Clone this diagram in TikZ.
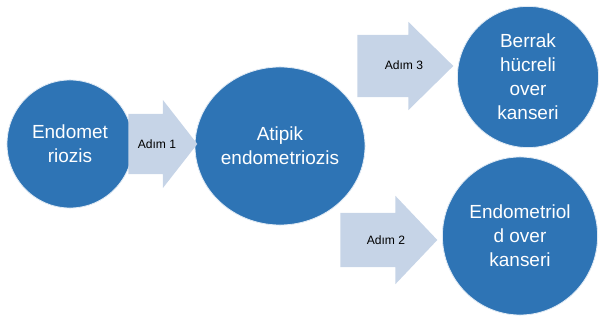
\documentclass[tikz,border=0pt]{standalone}
\usepackage{fontspec}
\setmainfont{Liberation Sans}
\usetikzlibrary{shapes.geometric,shapes.arrows}
\definecolor{stageblue}{HTML}{2E74B5}
\definecolor{adimfill}{HTML}{C6D4E7}

\begin{document}
\begin{tikzpicture}[
    x=0.025cm, y=-0.025cm,
    stage/.style={ellipse, draw=white!85!stageblue, line width=0.6pt, fill=stageblue,
                  text=white, font=\fontsize{13.5}{17}\selectfont, align=center, inner sep=0pt},
    adim/.style={single arrow, fill=adimfill, single arrow head indent=0pt,
                 inner xsep=0pt, inner ysep=#1, text height=5.7pt, text depth=0pt,
                 minimum width=2.2cm, anchor=tail},
    adimtxt/.style={font=\fontsize{8.6}{10}\selectfont, inner sep=0pt}]
  \useasboundingbox (0,0) rectangle (600,320);
  %% Stages
  \node[stage, minimum width=3.15cm, minimum height=3.2cm] (endo) at (70,144) {Endomet\\riozis};
  \node[stage, minimum width=4.25cm, minimum height=3.95cm] (atip) at (280,146) {Atipik\\endometriozis};
  \node[stage, minimum width=3.53cm, minimum height=3.53cm] (berrak) at (528,77)
    {Berrak\\hücreli\\over\\kanseri};
  \node[stage, minimum width=3.88cm, minimum height=3.95cm] (endoid) at (520,236)
    {Endometriol\\d over\\kanseri};
  %% Steps
  \node[adim=18.4pt, minimum height=1.725cm, single arrow head extend=0.35cm,
        single arrow tip angle=104] (adim1) at (128,144) {};
  \node[adim=19.1pt, minimum height=2.4cm, single arrow head extend=0.325cm,
        single arrow tip angle=89] (adim3) at (357,66) {};
  \node[adim=16.3pt, minimum height=2.425cm, single arrow head extend=0.425cm,
        single arrow tip angle=93] (adim2) at (340,240) {};
  %% Step labels
  \node[adimtxt] (adim1txt) at (157,144) {Adım 1};
  \node[adimtxt] (adim3txt) at (404,65) {Adım 3};
  \node[adimtxt] (adim2txt) at (386,240) {Adım 2};
\end{tikzpicture}
\end{document}
